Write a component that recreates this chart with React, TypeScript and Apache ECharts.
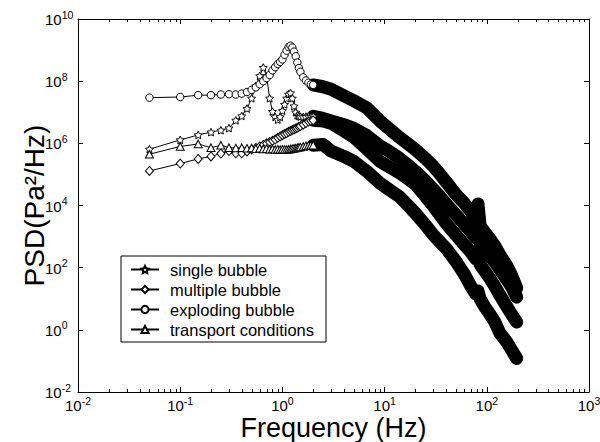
import React, { useEffect, useRef } from 'react';
import * as echarts from 'echarts';

const FONT = '"Liberation Sans", Arial, Helvetica, sans-serif';

const SERIES_NAMES = ['single bubble', 'multiple bubble', 'exploding bubble', 'transport conditions'];

// Low-frequency part (Hz), where individual markers are visible
const FREQ_LOW = [0.05, 0.1, 0.15, 0.2, 0.25, 0.3, 0.35, 0.4, 0.45, 0.5, 0.55, 0.6, 0.65, 0.7, 0.75, 0.8, 0.85, 0.9, 0.95, 1.0,
  1.05, 1.1, 1.15, 1.2, 1.25, 1.3, 1.35, 1.4, 1.45, 1.5, 1.6, 1.7, 1.8, 1.9, 2.0];

const SINGLE_LOW = [6.46e5, 1.29e6, 1.86e6, 2.29e6, 2.63e6, 3.09e6, 5.5e6, 7.59e6, 1.32e7, 2.82e7, 7.08e7, 1.48e8, 2.75e8, 1.48e8, 2.82e7, 1.05e7, 7.08e6, 5.75e6, 7.08e6, 1.12e7,
  1.78e7, 2.82e7, 3.8e7, 4.17e7, 2.82e7, 1.58e7, 1.0e7, 7.94e6, 7.59e6, 7.24e6, 7.08e6, 7.24e6, 7.41e6, 7.41e6, 7.41e6];

const MULTIPLE_LOW = [1.29e5, 2.24e5, 3.16e5, 3.8e5, 4.68e5, 5.62e5, 4.79e5, 4.79e5, 5.5e5, 6.31e5, 7.08e5, 7.94e5, 8.91e5, 1.0e6, 1.1e6, 1.2e6, 1.32e6, 1.51e6, 1.66e6, 1.82e6,
  2.0e6, 2.14e6, 2.34e6, 2.51e6, 2.69e6, 2.82e6, 3.02e6, 3.16e6, 3.39e6, 3.55e6, 3.98e6, 4.47e6, 5.01e6, 5.25e6, 5.5e6];

const EXPLODING_LOW = [2.95e7, 3.09e7, 3.55e7, 3.55e7, 3.72e7, 3.8e7, 3.72e7, 3.98e7, 4.47e7, 5.25e7, 6.31e7, 7.94e7, 1.0e8, 1.26e8, 1.58e8, 2.24e8, 2.82e8, 3.55e8, 4.17e8, 5.01e8,
  7.08e8, 9.55e8, 1.26e9, 1.38e9, 1.2e9, 8.91e8, 6.31e8, 3.98e8, 2.63e8, 2.0e8, 1.32e8, 1.05e8, 8.91e7, 7.94e7, 7.59e7];

const TRANSPORT_LOW = [4.47e5, 7.94e5, 9.55e5, 7.24e5, 8.71e5, 7.24e5, 7.08e5, 7.24e5, 6.92e5, 7.08e5, 6.76e5, 6.92e5, 6.61e5, 6.76e5, 6.46e5, 6.61e5, 6.31e5, 6.46e5, 6.31e5, 6.46e5,
  6.31e5, 6.31e5, 6.46e5, 6.61e5, 6.76e5, 6.92e5, 7.08e5, 7.24e5, 7.41e5, 7.59e5, 7.94e5, 8.32e5, 8.51e5, 8.71e5, 8.71e5];

// High-frequency part (Hz), where the dense points merge into black bands
const FREQ_HIGH = [2, 2.5, 3, 4, 5, 6.7, 9, 11, 14, 17, 20, 25, 30, 35, 40, 50, 60, 70, 78, 82, 86, 95, 105, 120, 134, 157, 175, 196];

const SINGLE_HIGH = [7.41e6, 6.31e6, 5.25e6, 3.98e6, 3.02e6, 1.78e6, 8.32e5, 5.62e5, 3.31e5, 2.0e5, 1.26e5, 6.31e4, 3.31e4, 1.91e4, 1.12e4, 5.01e3, 2.51e3, 1.41e3, 891, 2.0e3, 525, 355, 251, 151, 89.1, 41.7, 24.0, 11.2];

const MULTIPLE_HIGH = [5.5e6, 5.25e6, 4.47e6, 2.51e6, 1.58e6, 6.61e5, 2.63e5, 1.78e5, 1.12e5, 7.24e4, 4.79e4, 2.0e4, 9.55e3, 4.79e3, 2.63e3, 1.12e3, 562, 316, 191, 282, 126, 79.4, 50.1, 25.1, 13.2, 5.62, 3.16, 1.78];

const EXPLODING_HIGH = [7.59e7, 6.61e7, 5.5e7, 3.39e7, 2.34e7, 1.38e7, 5.25e6, 3.02e6, 1.55e6, 9.55e5, 6.31e5, 3.31e5, 1.82e5, 1.0e5, 5.75e4, 2.24e4, 1.2e4, 6.31e3, 3.55e3, 1.12e4, 2.24e3, 1.41e3, 933, 501, 263, 115, 56.2, 22.4];

const TRANSPORT_HIGH = [8.71e5, 9.12e5, 5.62e5, 3.8e5, 2.63e5, 1.26e5, 5.25e4, 3.31e4, 1.91e4, 1.0e4, 5.62e3, 2.4e3, 1.12e3, 661, 417, 158, 63.1, 25.1, 14.1, 17.8, 10, 5.62, 3.55, 1.78, 0.794, 0.407, 0.224, 0.12];

// Axes (decade exponents)
const X_MIN_EXP = -2;
const X_MAX_EXP = 3;
const Y_MIN_EXP = -2;
const Y_MAX_EXP = 10;
const MINOR_MULTIPLIERS = [2, 3, 4, 5, 6, 7, 8, 9];

const STAR = 'path://M0,-10L2.94,-4.05L9.51,-3.09L4.76,1.55L5.88,8.09L0,5L-5.88,8.09L-4.76,1.55L-9.51,-3.09L-2.94,-4.05Z';

const toPoints = (freqs: number[], vals: number[]) =>
  freqs.map((f, i) => [Math.log10(f), Math.log10(vals[i])]);

const superLabel = (v: number) => `{b|10}{s|${v}}`;
const richLabel = {
  b: { fontSize: 15, verticalAlign: 'bottom', fontFamily: FONT, color: '#000' },
  s: { fontSize: 10.5, padding: [0, 0, 7, 0], verticalAlign: 'bottom', fontFamily: FONT, color: '#000' },
};

export default function App() {
  const ref = useRef<HTMLDivElement>(null);

  useEffect(() => {
    if (!ref.current) return;
    const chart = echarts.init(ref.current, undefined, { renderer: 'svg' });

    const markerSets = [
      { name: SERIES_NAMES[0], low: SINGLE_LOW, high: SINGLE_HIGH, symbol: STAR, size: 8 },
      { name: SERIES_NAMES[1], low: MULTIPLE_LOW, high: MULTIPLE_HIGH, symbol: 'diamond', size: [8, 9] },
      { name: SERIES_NAMES[2], low: EXPLODING_LOW, high: EXPLODING_HIGH, symbol: 'circle', size: 7.5 },
      { name: SERIES_NAMES[3], low: TRANSPORT_LOW, high: TRANSPORT_HIGH, symbol: 'triangle', size: [8, 7.5] },
    ];

    const bandSeries = markerSets.map((s) => ({
      name: s.name + ' (dense)',
      type: 'line',
      data: toPoints(FREQ_HIGH, s.high),
      symbol: 'none',
      lineStyle: { color: '#000', width: 13, cap: 'round', join: 'round' },
      z: 3,
      silent: true,
    }));

    const lowSeries = markerSets.map((s) => ({
      name: s.name,
      type: 'line',
      data: toPoints(FREQ_LOW, s.low),
      symbol: s.symbol,
      symbolSize: s.size,
      symbolKeepAspect: true,
      showAllSymbol: true,
      lineStyle: { color: '#000', width: 1 },
      itemStyle: { color: '#fff', borderColor: '#000', borderWidth: 1 },
      z: 4,
      silent: true,
    }));

    const minorTicks: number[][] = [];
    for (let e = X_MIN_EXP; e < X_MAX_EXP; e++) {
      MINOR_MULTIPLIERS.forEach((m) => minorTicks.push([Math.log10(m * Math.pow(10, e)), Y_MIN_EXP]));
    }

    const minorSeries = {
      name: 'minor ticks',
      type: 'custom',
      data: minorTicks,
      silent: true,
      z: 10,
      renderItem: (params: any, api: any) => {
        const x = api.value(0);
        const b = api.coord([x, Y_MIN_EXP]);
        const t = api.coord([x, Y_MAX_EXP]);
        const px = Math.round(b[0]) + 0.5;
        return {
          type: 'group',
          children: [
            { type: 'line', shape: { x1: px, y1: b[1], x2: px, y2: b[1] - 3 }, style: { stroke: '#000', lineWidth: 1 } },
            { type: 'line', shape: { x1: px, y1: t[1], x2: px, y2: t[1] + 3 }, style: { stroke: '#000', lineWidth: 1 } },
          ],
        };
      },
    };

    const axisLineStyle = { show: true, onZero: false, lineStyle: { color: '#000', width: 1 } };
    const tickStyle = { show: true, inside: true, length: 5, lineStyle: { color: '#000' } };

    chart.setOption({
      animation: false,
      backgroundColor: '#fff',
      grid: { left: 78, right: 11, top: 19, bottom: 50, outerBoundsMode: 'none' },
      legend: {
        data: SERIES_NAMES,
        orient: 'vertical',
        left: 121,
        top: 256,
        itemWidth: 28,
        itemHeight: 9,
        itemGap: 3,
        padding: [5, 12, 4, 9],
        borderColor: '#000',
        borderWidth: 1,
        backgroundColor: '#fff',
        selectedMode: false,
        textStyle: { fontSize: 16.5, color: '#000', fontFamily: FONT, padding: [0, 0, 0, 6] },
      },
      xAxis: [
        {
          type: 'value',
          min: X_MIN_EXP,
          max: X_MAX_EXP,
          interval: 1,
          position: 'bottom',
          axisLine: axisLineStyle,
          axisTick: tickStyle,
          splitLine: { show: false },
          axisLabel: { formatter: superLabel, rich: richLabel, margin: 3, color: '#000' },
          name: 'Frequency (Hz)',
          nameLocation: 'middle',
          nameGap: 22,
          nameMoveOverlap: false,
          nameTextStyle: { fontSize: 27, fontFamily: FONT, color: '#000' },
        },
        {
          type: 'value',
          min: X_MIN_EXP,
          max: X_MAX_EXP,
          interval: 1,
          position: 'top',
          axisLine: axisLineStyle,
          axisTick: tickStyle,
          splitLine: { show: false },
          axisLabel: { show: false },
        },
      ],
      yAxis: [
        {
          type: 'value',
          min: Y_MIN_EXP,
          max: Y_MAX_EXP,
          interval: 2,
          position: 'left',
          axisLine: axisLineStyle,
          axisTick: tickStyle,
          splitLine: { show: false },
          axisLabel: { formatter: superLabel, rich: richLabel, margin: 33, align: 'left', padding: [0, 0, 2, 0], color: '#000' },
          name: 'PSD(Pa²/Hz)',
          nameLocation: 'middle',
          nameGap: 30,
          nameMoveOverlap: false,
          nameTextStyle: { fontSize: 28, fontFamily: FONT, color: '#000' },
        },
        {
          type: 'value',
          min: Y_MIN_EXP,
          max: Y_MAX_EXP,
          interval: 2,
          position: 'right',
          axisLine: axisLineStyle,
          axisTick: tickStyle,
          splitLine: { show: false },
          axisLabel: { show: false },
        },
      ],
      series: [...bandSeries, ...lowSeries, minorSeries],
    });

    return () => chart.dispose();
  }, []);

  return <div ref={ref} style={{ position: 'fixed', left: 0, top: 0, width: 600, height: 442, background: '#fff' }} />;
}
